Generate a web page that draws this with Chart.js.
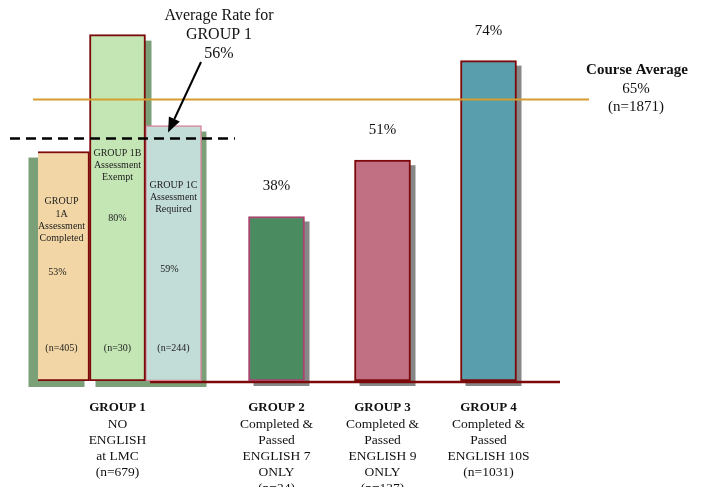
<!DOCTYPE html>
<html><head><meta charset="utf-8">
<script src="https://cdn.jsdelivr.net/npm/chart.js@4"></script>
<style>html,body{margin:0;padding:0;background:#fff}#wrap{width:704px;height:487px;position:relative}</style>
</head><body><div id="wrap"><canvas id="c"></canvas></div>
<script>
// ---- data ----
const categories = ["", "GROUP 1", "", "", "GROUP 2", "", "GROUP 3", "", "GROUP 4", "", ""];
const group1ARate = [null, 53, null, null, null, null, null, null, null, null, null];
const group1BRate = [null, 80, null, null, null, null, null, null, null, null, null];
const group1CRate = [null, 59, null, null, null, null, null, null, null, null, null];
const groups234Rate = [null, null, null, null, 38, null, 51, null, 74, null, null];
const subgroupLabels = [["GROUP", "1A", "Assessment", "Completed"], ["GROUP 1B", "Assessment", "Exempt"], ["GROUP 1C", "Assessment", "Required"]];
const subgroupN = ["(n=405)", "(n=30)", "(n=244)"];
const groupCaptions = [
  ["NO", "ENGLISH", "at LMC", "(n=679)"],
  ["Completed &", "Passed", "ENGLISH 7", "ONLY", "(n=24)"],
  ["Completed &", "Passed", "ENGLISH 9", "ONLY", "(n=137)"],
  ["Completed &", "Passed", "ENGLISH 10S", "(n=1031)"]
];
const group1Average = 56;
const courseAverage = 65;
const courseN = "(n=1871)";

const SERIF = '"Liberation Serif", "Times New Roman", serif';

const decor = {
  id: 'decor',
  beforeDatasetsDraw(chart) {
    const ctx = chart.ctx;
    ctx.save();
    chart.data.datasets.forEach((ds, i) => {
      const meta = chart.getDatasetMeta(i);
      meta.data.forEach((el, j) => {
        if (ds.data[j] == null) return;
        const p = el.getProps(['x', 'y', 'base', 'width'], true);
        ctx.fillStyle = ds.shadowColor;
        ctx.fillRect(p.x - p.width / 2 + ds.shadowDx, p.y + ds.shadowDy, p.width, p.base - p.y);
      });
    });
    const y0 = chart.scales.y.getPixelForValue(0);
    ctx.strokeStyle = '#7d0a0a';
    ctx.lineWidth = 2.5;
    ctx.beginPath();
    ctx.moveTo(150, y0 + 1);
    ctx.lineTo(560, y0 + 1);
    ctx.stroke();
    ctx.restore();
  },
  afterDatasetsDraw(chart) {
    const ctx = chart.ctx;
    const ys = chart.scales.y;
    ctx.save();
    // course average line
    const ya = ys.getPixelForValue(courseAverage);
    ctx.strokeStyle = '#D69E2E';
    ctx.lineWidth = 2;
    ctx.beginPath(); ctx.moveTo(33, ya); ctx.lineTo(589, ya); ctx.stroke();
    // group 1 average dashed
    const yg = ys.getPixelForValue(group1Average);
    ctx.strokeStyle = '#000';
    ctx.lineWidth = 2.5;
    ctx.setLineDash([10, 6]);
    ctx.beginPath(); ctx.moveTo(10, yg); ctx.lineTo(235, yg); ctx.stroke();
    ctx.setLineDash([]);
    // arrow
    const sx = 201, sy = 62, tx = 168, ty = yg - 6;
    const ang = Math.atan2(ty - sy, tx - sx);
    const hl = 15, hw = 6;
    const bx = tx - hl * Math.cos(ang), by = ty - hl * Math.sin(ang);
    ctx.lineWidth = 2;
    ctx.beginPath(); ctx.moveTo(sx, sy); ctx.lineTo(bx, by); ctx.stroke();
    ctx.fillStyle = '#000';
    ctx.beginPath();
    ctx.moveTo(tx, ty);
    ctx.lineTo(bx + hw * Math.sin(ang), by - hw * Math.cos(ang));
    ctx.lineTo(bx - hw * Math.sin(ang), by + hw * Math.cos(ang));
    ctx.closePath(); ctx.fill();
    ctx.restore();
  },
  afterDraw(chart) {
    const ctx = chart.ctx;
    const ys = chart.scales.y, xs = chart.scales.x;
    const y0 = ys.getPixelForValue(0);
    ctx.save();
    ctx.textAlign = 'center';
    ctx.textBaseline = 'middle';
    ctx.fillStyle = '#111';
    // top annotation
    ctx.font = '16px ' + SERIF;
    ctx.fillText('Average Rate for', 219, 16);
    ctx.fillText('GROUP 1', 219, 35);
    ctx.fillText(group1Average + '%', 219, 54);
    // course average text
    const ya = ys.getPixelForValue(courseAverage);
    ctx.font = 'bold 15px ' + SERIF;
    ctx.fillText('Course Average', 637, ya - 29);
    ctx.font = '15px ' + SERIF;
    ctx.fillText(courseAverage + '%', 636, ya - 11);
    ctx.fillText(courseN, 636, ya + 7);
    // subgroup (group 1) labels inside bars
    const subData = [group1ARate, group1BRate, group1CRate];
    const titleY = [[-180, -167, -155, -143], [-228, -216, -204], [-196, -184, -172]];
    const pctY = [-109, -163, -112];
    ctx.font = '10px ' + SERIF;
    ctx.fillStyle = '#222';
    subData.forEach((arr, i) => {
      const meta = chart.getDatasetMeta(i);
      const idx = arr.findIndex(v => v != null);
      const el = meta.data[idx];
      const cx = el.x;
      subgroupLabels[i].forEach((t, k) => ctx.fillText(t, cx, y0 + titleY[i][k]));
      ctx.fillText(arr[idx] + '%', cx - (i === 1 ? 0 : 4), y0 + pctY[i]);
      ctx.fillText(subgroupN[i], cx, y0 - 33);
    });
    // value labels above groups 2-4
    ctx.font = '15px ' + SERIF;
    ctx.fillStyle = '#111';
    const meta3 = chart.getDatasetMeta(3);
    groups234Rate.forEach((v, j) => {
      if (v == null) return;
      const el = meta3.data[j];
      ctx.fillText(v + '%', el.x, el.y - 30);
    });
    // group captions under axis
    let g = 0;
    categories.forEach((c, j) => {
      if (!c) return;
      const cx = xs.getPixelForValue(j);
      ctx.font = 'bold 13px ' + SERIF;
      ctx.fillStyle = '#111';
      ctx.fillText(c, cx, y0 + 27);
      ctx.font = '13.5px ' + SERIF;
      groupCaptions[g].forEach((t, k) => ctx.fillText(t, cx, y0 + 43 + k * 16));
      g++;
    });
    ctx.restore();
  }
};

new Chart(document.getElementById('c'), {
  type: 'bar',
  data: {
    labels: categories,
    datasets: [
      { label: 'GROUP 1A', data: group1ARate, backgroundColor: '#F3D6A5', borderColor: '#7d0a0a', borderWidth: 2, shadowColor: '#7BA077', shadowDx: -5, shadowDy: 6 },
      { label: 'GROUP 1B', data: group1BRate, backgroundColor: '#C3E6B4', borderColor: '#7d0a0a', borderWidth: 2, shadowColor: '#7BA077', shadowDx: 6, shadowDy: 6 },
      { label: 'GROUP 1C', data: group1CRate, backgroundColor: '#C2DCD7', borderColor: '#D9869B', borderWidth: 1.5, shadowColor: '#7BA077', shadowDx: 5, shadowDy: 6 },
      { label: 'GROUPS 2-4', data: groups234Rate,
        backgroundColor: ['', '', '', '', '#4B8B60', '', '#C17084', '', '#589EAD', '', ''],
        borderColor: ['', '', '', '', '#A8456E', '', '#7d0a0a', '', '#7d0a0a', '', ''],
        borderWidth: 2, shadowColor: '#878787', shadowDx: 5, shadowDy: 5 }
    ]
  },
  options: {
    responsive: true,
    maintainAspectRatio: false,
    animation: false,
    layout: { padding: { left: 38, right: 83, top: 13, bottom: 106 } },
    datasets: { bar: { barThickness: 56, skipNull: true, grouped: true, borderSkipped: false } },
    plugins: { legend: { display: false }, tooltip: { enabled: false } },
    scales: {
      x: { display: false, grid: { display: false } },
      y: { display: false, min: 0, max: 85, grid: { display: false } }
    }
  },
  plugins: [decor]
});
</script>
</body></html>
